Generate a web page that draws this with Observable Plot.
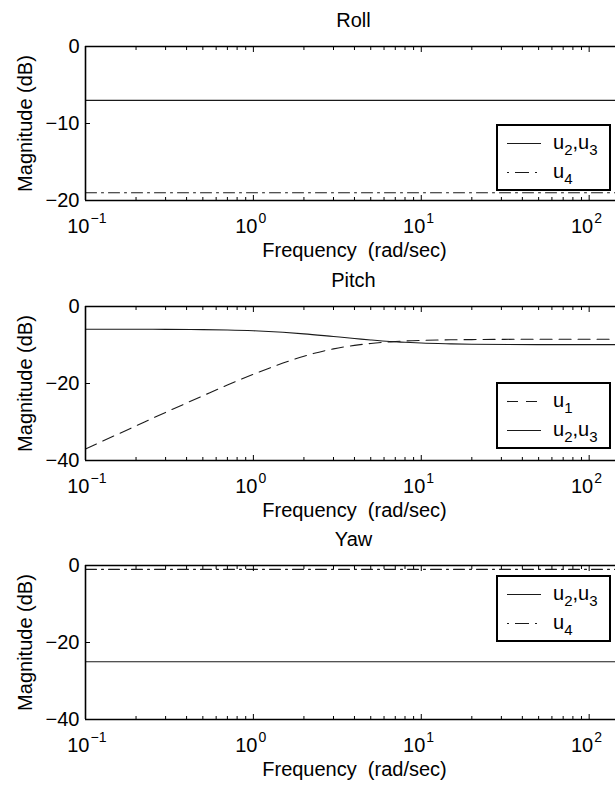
<!DOCTYPE html>
<html>
<head>
<meta charset="utf-8">
<script src="https://cdn.jsdelivr.net/npm/d3@7"></script>
<script src="https://cdn.jsdelivr.net/npm/@observablehq/plot@0.6"></script>
<style>
  body { margin: 0; background: #fff; font-family: "Liberation Sans", Arial, Helvetica, sans-serif; }
  #chart { position: relative; width: 615px; height: 789px; overflow: hidden; background: #fff; }
  .panel { position: absolute; left: 0; width: 615px; }
  .legend { position: absolute; left: 496px; width: 115px; height: 67px; }
</style>
</head>
<body>
<div id="chart"></div>
<script>
// ---------- data ----------
const xMajor = [0.1, 1, 10, 100];
const xMinor = [0.2, 0.3, 0.4, 0.5, 0.6, 0.7, 0.8, 0.9, 2, 3, 4, 5, 6, 7, 8, 9, 20, 30, 40, 50, 60, 70, 80, 90];
const xTickBase = "10";
const xTickExp = ["\u22121", "0", "1", "2"];
const xLabel = "Frequency  (rad/sec)";
const yLabel = "Magnitude (dB)";

const panelTitles = ["Roll", "Pitch", "Yaw"];

const rollYTicks = [0, -10, -20];
const rollYTickLabels = ["0", "\u221210", "\u221220"];
const pitchYTicks = [0, -20, -40];
const pitchYTickLabels = ["0", "\u221220", "\u221240"];
const yawYTicks = [0, -20, -40];
const yawYTickLabels = ["0", "\u221220", "\u221240"];

const rollFreq = [0.1, 1000];
const rollU23 = [-7, -7];
const rollU4 = [-19, -19];

const pitchFreq = [0.1, 0.2, 0.3, 0.5, 0.7, 1, 1.5, 2, 3, 4, 5, 6.5, 8, 10, 15, 20, 50, 100, 1000];
const pitchU1 = [-37.0, -31.0, -27.5, -23.2, -20.4, -17.6, -14.7, -12.9, -11.0, -10.1, -9.6, -9.2, -8.95, -8.8, -8.65, -8.6, -8.5, -8.5, -8.5];
const pitchU23 = [-5.9, -5.9, -5.95, -6.0, -6.1, -6.3, -6.7, -7.1, -7.8, -8.3, -8.7, -9.1, -9.3, -9.5, -9.7, -9.8, -9.9, -9.9, -9.9];

const yawFreq = [0.1, 1000];
const yawU23 = [-25, -25];
const yawU4 = [-1, -1];

// legend labels
const labU1 = ["u", "1"];
const labU23 = ["u", "2", ",u", "3"];
const labU4 = ["u", "4"];

// ---------- styles ----------
const SOLID = null;
const DASHED = "12,7";
const DASHDOT = "11,5,2,5";
const FONT = "Liberation Sans, Arial, Helvetica, sans-serif";

function makePanel(cfg) {
  const marks = [];
  for (const s of cfg.series) {
    const data = s.freq.map((f, i) => ({f, v: s.values[i]}));
    marks.push(Plot.line(data, {
      x: "f", y: "v", stroke: "#1a1a1a", strokeWidth: 1.1,
      strokeDasharray: s.dash, curve: "monotone-x", clip: true
    }));
  }
  marks.push(
    // frame (top, bottom, left)
    Plot.ruleY([cfg.yDomain[0], cfg.yDomain[1]], {stroke: "#000", strokeWidth: 1.6}),
    Plot.ruleX([0.1], {stroke: "#000", strokeWidth: 1.6}),
    // inward ticks
    Plot.axisX(xMajor, {anchor: "bottom", tickSize: -5, fill: "none", label: null, stroke: "#000"}),
    Plot.axisX(xMajor, {anchor: "top", tickSize: -5, fill: "none", label: null, stroke: "#000"}),
    Plot.axisX(xMinor, {anchor: "bottom", tickSize: -3, fill: "none", label: null, stroke: "#000"}),
    Plot.axisX(xMinor, {anchor: "top", tickSize: -3, fill: "none", label: null, stroke: "#000"}),
    Plot.axisY(cfg.yTicks, {anchor: "left", tickSize: -5, fill: "none", label: null, stroke: "#000"}),
    // y tick labels
    Plot.axisY(cfg.yTicks, {anchor: "left", tickSize: 0, tickPadding: 6, label: null, fill: "#000",
      fontSize: 20, tickFormat: d => cfg.yTickLabels[cfg.yTicks.indexOf(d)]}),
    // x tick labels 10^n
    Plot.text(xMajor, {x: d => d, frameAnchor: "bottom", dy: 32, dx: 4, textAnchor: "end",
      lineAnchor: "bottom", text: () => xTickBase, fontSize: 20, fill: "#000"}),
    Plot.text(xMajor, {x: d => d, frameAnchor: "bottom", dy: 22, dx: 5, textAnchor: "start",
      lineAnchor: "bottom", text: (d, i) => xTickExp[i], fontSize: 14, fill: "#000"}),
    // axis labels and title
    Plot.text([xLabel], {frameAnchor: "bottom", dy: 56, dx: 4, lineAnchor: "bottom", fontSize: 20, fill: "#000"}),
    Plot.text([yLabel], {frameAnchor: "left", dx: -54, rotate: -90, lineAnchor: "bottom", textAnchor: "middle", fontSize: 20, fill: "#000"}),
    Plot.text([cfg.title], {frameAnchor: "top", dy: -20, dx: 3, lineAnchor: "bottom", fontSize: 20, fill: "#000"})
  );
  return Plot.plot({
    width: 615,
    height: cfg.height,
    marginLeft: 85,
    marginRight: 0,
    marginTop: 46,
    marginBottom: cfg.height - 46 - 154,
    x: {type: "log", domain: [0.1, 143.5], axis: null},
    y: {domain: cfg.yDomain, axis: null},
    style: {fontFamily: FONT, fontSize: "20px", background: "none", color: "#000", overflow: "visible"},
    marks
  });
}

function legendSVG(rows) {
  const svg = d3.create("svg").attr("width", 115).attr("height", 67)
    .style("display", "block").style("overflow", "visible");
  svg.append("rect").attr("x", 1).attr("y", 1).attr("width", 113).attr("height", 65)
    .attr("fill", "#fff").attr("stroke", "#000").attr("stroke-width", 2);
  const rowY = [19.5, 48.5];
  rows.forEach((r, i) => {
    const y = rowY[i];
    const ln = svg.append("line").attr("x1", 11).attr("x2", 45).attr("y1", y).attr("y2", y)
      .attr("stroke", "#1a1a1a").attr("stroke-width", 1.1);
    if (r.dash === DASHDOT) ln.attr("stroke-dasharray", "2,6,14,6,2,10");
    else if (r.dash) ln.attr("stroke-dasharray", "11,8");
    const t = svg.append("text").attr("x", 57).attr("y", y + 5)
      .attr("font-family", FONT).attr("font-size", 20).attr("fill", "#000");
    r.label.forEach((part, j) => {
      const sub = j % 2 === 1;
      t.append("tspan").text(part)
        .attr("font-size", sub ? 15 : 20)
        .attr("dy", sub ? 6 : (j === 0 ? 0 : -6));
    });
  });
  return svg.node();
}

const configs = [
  {title: panelTitles[0], top: 0, height: 260, yDomain: [-20, 0], yTicks: rollYTicks, yTickLabels: rollYTickLabels,
   series: [{freq: rollFreq, values: rollU23, dash: SOLID}, {freq: rollFreq, values: rollU4, dash: DASHDOT}],
   legendTop: 124, legend: [{dash: SOLID, label: labU23}, {dash: DASHDOT, label: labU4}]},
  {title: panelTitles[1], top: 260, height: 260, yDomain: [-40, 0], yTicks: pitchYTicks, yTickLabels: pitchYTickLabels,
   series: [{freq: pitchFreq, values: pitchU1, dash: DASHED}, {freq: pitchFreq, values: pitchU23, dash: SOLID}],
   legendTop: 122, legend: [{dash: DASHED, label: labU1}, {dash: SOLID, label: labU23}]},
  {title: panelTitles[2], top: 519, height: 270, yDomain: [-40, 0], yTicks: yawYTicks, yTickLabels: yawYTickLabels,
   series: [{freq: yawFreq, values: yawU23, dash: SOLID}, {freq: yawFreq, values: yawU4, dash: DASHDOT}],
   legendTop: 56, legend: [{dash: SOLID, label: labU23}, {dash: DASHDOT, label: labU4}]}
];

const chart = document.getElementById("chart");
for (const cfg of configs) {
  const div = document.createElement("div");
  div.className = "panel";
  div.style.top = cfg.top + "px";
  div.style.height = cfg.height + "px";
  div.appendChild(makePanel(cfg));
  const leg = document.createElement("div");
  leg.className = "legend";
  leg.style.top = cfg.legendTop + "px";
  leg.appendChild(legendSVG(cfg.legend));
  div.appendChild(leg);
  chart.appendChild(div);
}
</script>
</body>
</html>
